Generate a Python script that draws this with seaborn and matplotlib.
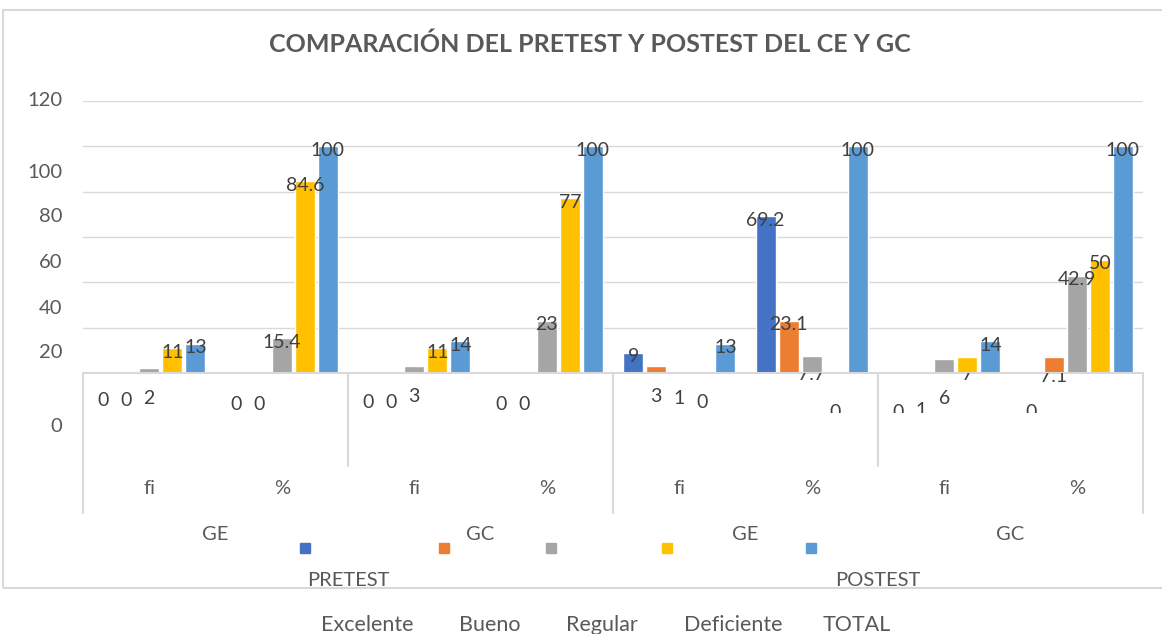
import pandas as pd
import matplotlib.pyplot as plt
import seaborn as sns
from matplotlib.patches import Rectangle
from matplotlib.transforms import ScaledTranslation, Bbox, TransformedBbox

# categorias del eje x (tres niveles)
tests = ['PRETEST', 'POSTEST']
groups = ['GE', 'GC']
measures = ['fi', '%']

series = ['Excelente', 'Bueno', 'Regular', 'Deficiente', 'TOTAL']
excelente = [0, 0, 0, 0, 9, 69.2, 0, 0]
bueno = [0, 0, 0, 0, 3, 23.1, 1, 7.1]
regular = [2, 15.4, 3, 23, 1, 7.7, 6, 42.9]
deficiente = [11, 84.6, 11, 77, 0, 0, 7, 50]
total = [13, 100, 14, 100, 13, 100, 14, 100]

y_ticks = [0, 20, 40, 60, 80, 100, 120]

colors = ['#4472C4', '#ED7D31', '#A5A5A5', '#FFC000', '#5B9BD5']

# desplazamientos raros de las etiquetas (px bajo la base), None = sobre la barra
label_drop = [
    [28, 31, 29, 31, None, None, 39, 39],
    [28, 31, 29, 31, 24, None, 37, 3],
    [25, None, 24, None, 25, 1, 26, None],
    [None, None, None, None, 29, 39, 2, None],
    [None] * 8,
]
ytick_drop = [54, 25, 26, 26, 25, 26, 0]

W, H = 1162, 634
TXT = '#595959'
LINE = '#d9d9d9'
FS = 14.5

sns.set_theme(style='white')
plt.rcParams['font.family'] = ['Lato', 'DejaVu Sans']

cats = [f'{t} {g} {m}' for t in tests for g in groups for m in measures]
values = [excelente, bueno, regular, deficiente, total]
rows = []
for s, vals in zip(series, values):
    for c, v in zip(cats, vals):
        rows.append((c, s, v))
df = pd.DataFrame(rows, columns=['cat', 'serie', 'valor'])

fig = plt.figure(figsize=(W / 100, H / 100), dpi=100)
ax = fig.add_axes([83 / W, 1 - 373 / H, 1060 / W, 272 / H])

sns.barplot(data=df, x='cat', y='valor', hue='serie', order=cats, hue_order=series,
            palette=colors, saturation=1, width=0.87, gap=0.13, errorbar=None,
            legend=False, ax=ax)

ax.set_xlim(-0.5, len(cats) - 0.5)
ax.set_ylim(0, 120)
ax.set_xlabel('')
ax.set_ylabel('')
ax.set_xticks(range(len(cats)))
ax.set_xticklabels([])
ax.set_yticks(y_ticks)
ax.set_yticklabels([])
ax.tick_params(length=0)
for sp in ax.spines.values():
    sp.set_visible(False)
ax.yaxis.grid(True, color=LINE, lw=1)
ax.set_axisbelow(True)

# etiquetas del eje y (desplazadas como en el original)
ytr = ax.get_yaxis_transform()
for v, d in zip(y_ticks, ytick_drop):
    ax.text(-21 / 1060, v, str(v), ha='right', va='center', fontsize=FS, color=TXT,
            transform=ytr + ScaledTranslation(0, -d / 100, fig.dpi_scale_trans))

# etiquetas de datos
clip = TransformedBbox(Bbox.from_extents(0, 1 - 413 / H, 1, 1 - 373 / H), fig.transFigure)
for cont, drops in zip(ax.containers, label_drop):
    for bar, val, d in zip(cont, cont.datavalues, drops):
        x = bar.get_x() + bar.get_width() / 2
        lab = f'{val:g}'
        if d is None:
            fig.text(x, val, lab, ha='center', va='center', fontsize=14, color='#404040',
                     transform=ax.transData + ScaledTranslation(0, -0.04, fig.dpi_scale_trans))
        else:
            fig.text(x, 0, lab, ha='center', va='center', fontsize=14, color='#404040',
                     transform=ax.transData + ScaledTranslation(0, -d / 100, fig.dpi_scale_trans),
                     clip_on=True, clip_box=clip)

# caja del eje de categorias
xtr = ax.get_xaxis_transform()
ax.plot([-0.5, 7.5], [0, 0], color=LINE, lw=1.5, transform=xtr, clip_on=False)
for x in [-0.5, 1.5, 3.5, 5.5, 7.5]:
    low = -140 / 272 if x in (-0.5, 3.5, 7.5) else -93 / 272
    ax.plot([x, x], [0, low], color=LINE, lw=1.5, transform=xtr, clip_on=False)

for i, c in enumerate(cats):
    ax.text(i, -115 / 272, measures[i % 2], ha='center', va='center', fontsize=FS,
            color=TXT, transform=xtr)
for k in range(4):
    ax.text(2 * k + 0.5, -162 / 272, groups[k % 2], ha='center', va='center', fontsize=FS,
            color=TXT, transform=xtr)
for k, t in enumerate(tests):
    ax.text(4 * k + 1.5, -207 / 272, t, ha='center', va='center', fontsize=FS,
            color=TXT, transform=xtr)

# leyenda (marcadores y textos separados, como en el original)
square_x = [305, 444, 551, 667, 811]
text_x = [367, 490, 602, 733, 857]
for s, col, sx, tx in zip(series, colors, square_x, text_x):
    fig.add_artist(Rectangle(((sx - 5) / W, 1 - 553 / H), 10 / W, 10 / H,
                             transform=fig.transFigure, color=col))
    fig.text(tx / W, 1 - 625 / H, s, ha='center', va='center', fontsize=15.5, color=TXT)

# marco del grafico
fig.add_artist(Rectangle((3 / W, 1 - 588 / H), 1170 / W, 578 / H, transform=fig.transFigure,
                         fill=False, edgecolor=LINE, lw=1.5))

fig.text(590 / W, 1 - 44 / H, 'COMPARACIÓN DEL PRETEST Y POSTEST DEL CE Y GC',
         ha='center', va='center', fontsize=18, fontweight='bold', color=TXT,
         family=['Liberation Sans Narrow', 'Lato'])

fig.savefig('out.png', dpi=100)
